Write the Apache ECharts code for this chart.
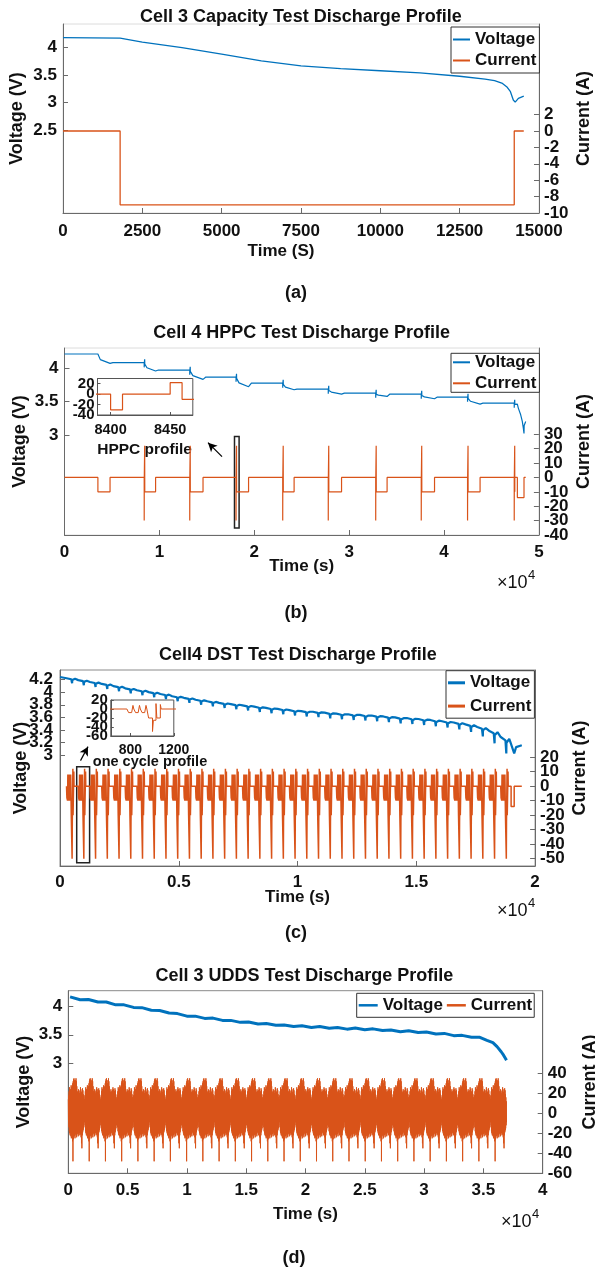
<!DOCTYPE html>
<html><head><meta charset="utf-8">
<script src="https://cdn.jsdelivr.net/npm/echarts@6/dist/echarts.min.js"></script>
<style>html,body{margin:0;padding:0;background:#fff}#c{width:595px;height:1269px}</style>
</head><body><div id="c"></div>
<script>
// ======================= DATA =======================
// (a) Cell 3 capacity test
const capTime = [0, 1800, 2500, 3750, 5000, 6250, 7500, 8750, 10000, 11250, 12500, 13300, 13600, 13850, 14000, 14100, 14190, 14250, 14350, 14520];
const capVolt = [4.18, 4.17, 4.10, 4.00, 3.88, 3.76, 3.67, 3.62, 3.58, 3.54, 3.48, 3.43, 3.40, 3.35, 3.28, 3.20, 3.05, 3.01, 3.08, 3.12];
const capCurTime = [0, 1800, 1800, 14220, 14220, 14520];
const capCur = [0, 0, -9, -9, 0, 0];
const capXTicks = [0, 2500, 5000, 7500, 10000, 12500, 15000];
const capVTicks = [2.5, 3, 3.5, 4];
const capITicks = [-10, -8, -6, -4, -2, 0, 2];

// (b) Cell 4 HPPC test
const hppcFirstStep = [3520, 4800];            // first -10 A discharge step (s)
const hppcFirstV = [4.21, 4.07, 4.08];         // rest, end of step, relaxed
const hppcStepI = -10;
const hppcPulseStart = [8400, 13200, 18080, 23000, 27800, 32800, 37600, 42480, 47400];
const hppcStepEnd   = [9600, 14600, 19400, 24200, 29200, 34000, 39000, 43800, 47460];
const hppcVRest = [4.08, 3.97, 3.865, 3.775, 3.685, 3.625, 3.61, 3.565, 3.475];
const hppcVLow  = [3.955, 3.83, 3.72, 3.675, 3.61, 3.575, 3.54, 3.46];
const hppcPulseRelT = [0, 0, 10, 10, 50, 50, 60, 60];
const hppcPulseCur  = [0, -30, -30, 0, 0, 22, 22, -10];
const hppcPulseDV   = [0, -0.07, -0.09, -0.01, 0, 0.05, 0.06, -0.02];
const hppcEndT   = [47730, 47730, 48430, 48430, 48610];
const hppcEndCur = [0, -14, -14, 0, 0];
const hppcEndVT = [47730, 47830, 48080, 48250, 48360, 48430, 48445, 48610];
const hppcEndV  = [3.46, 3.40, 3.30, 3.20, 3.10, 3.02, 3.14, 3.20];
const hppcXTicks = [0, 10000, 20000, 30000, 40000, 50000];
const hppcVTicks = [3, 3.5, 4];
const hppcITicks = [-40, -30, -20, -10, 0, 10, 20, 30];
const hppcInsetXTicks = [8400, 8450];
const hppcInsetITicks = [-40, -20, 0, 20];

// (c) Cell 4 DST test
const dstCycleStart = [274, 768, 1262, 1756, 2250, 2744, 3238, 3732, 4226, 4720, 5214, 5708, 6202, 6696, 7190, 7684, 8178, 8672, 9166, 9660, 10154, 10648, 11142, 11636, 12130, 12624, 13118, 13612, 14106, 14600, 15094, 15588, 16082, 16576, 17070, 17564, 18058, 18552];
const dstStepDur = [16, 28, 12, 8, 16, 24, 12, 8, 16, 24, 12, 8, 16, 36, 8, 24, 8, 32, 8, 44];
const dstStepCur = [0, -8, -10, 8, 0, -8, -10, 8, 0, -8, -10, 8, 0, -20, -50, -25, 12, -20, 10, 0];
const dstEndT   = [18990, 18990, 19120, 19120, 19440];
const dstEndCur = [0, -14, -14, 0, 0];
const dstVStart = [0, 4.24];
const dstVTop = [4.22, 4.19, 4.16, 4.13, 4.095, 4.06, 4.03, 4.00, 3.97, 3.935, 3.91, 3.88, 3.855, 3.83, 3.81, 3.79, 3.77, 3.75, 3.735, 3.715, 3.70, 3.69, 3.675, 3.66, 3.65, 3.64, 3.63, 3.615, 3.60, 3.59, 3.575, 3.56, 3.54, 3.52, 3.49, 3.45, 3.39, 3.29];
const dstVDip = [0.08, 0.08, 0.08, 0.08, 0.08, 0.08, 0.08, 0.08, 0.08, 0.08, 0.08, 0.08, 0.08, 0.08, 0.08, 0.08, 0.085, 0.085, 0.085, 0.085, 0.085, 0.085, 0.09, 0.09, 0.09, 0.09, 0.09, 0.09, 0.095, 0.095, 0.095, 0.10, 0.10, 0.11, 0.12, 0.15, 0.20, 0.26];
const dstVShapeT = [0, 200, 236, 242, 360];
const dstVShapeF = [0, 0.2, 1, 0.35, 0.12];
const dstEndVT = [18950, 18990, 19120, 19200, 19440];
const dstEndV  = [3.22, 3.20, 3.03, 3.13, 3.16];
const dstXTicks = [0, 5000, 10000, 15000, 20000];
const dstVTicks = [3, 3.2, 3.4, 3.6, 3.8, 4, 4.2];
const dstITicks = [-50, -40, -30, -20, -10, 0, 10, 20];
const dstInsetXTicks = [800, 1200];
const dstInsetITicks = [-60, -40, -20, 0, 20];

// (d) Cell 3 UDDS test
const uddsCycleDur = 1369;
const uddsCycleStart = [0, 1369, 2738, 4107, 5476, 6845, 8214, 9583, 10952, 12321, 13690, 15059, 16428, 17797, 19166, 20535, 21904, 23273, 24642, 26011, 27380, 28749, 30118, 31487, 32856, 34225, 35594];
const uddsPos = [14, 18, 22, 26, 24, 20, 24, 28, 26, 22, 27, 30, 32, 34, 35, 33, 28, 30, 33, 35, 32, 27, 22, 19, 21, 24, 22, 18, 20, 23, 26, 24, 21, 18, 22, 25, 23, 19, 16, 12];
const uddsNeg = [-8, -14, -18, -20, -22, -19, -23, -25, -21, -24, -28, -48, -26, -22, -20, -23, -25, -21, -19, -22, -24, -20, -18, -21, -23, -19, -17, -20, -22, -18, -21, -24, -30, -35, -22, -19, -17, -15, -12, -9];
const uddsVTime = [150, 1000, 1700, 2500, 3200, 4000, 4700, 5500, 6200, 7000, 7700, 8500, 9200, 10000, 10700, 11500, 12200, 13000, 13700, 14500, 15200, 16000, 16700, 17500, 18200, 19000, 19700, 20500, 21200, 22000, 22700, 23500, 24200, 25000, 25700, 26500, 27200, 28000, 28700, 29500, 30200, 31000, 31700, 32500, 33200, 34000, 34700, 35300, 35800, 36150, 36500, 36700, 36950];
const uddsVolt  = [4.17, 4.12, 4.125, 4.08, 4.08, 4.03, 4.03, 3.985, 3.98, 3.935, 3.93, 3.885, 3.875, 3.83, 3.83, 3.79, 3.795, 3.755, 3.755, 3.72, 3.725, 3.69, 3.70, 3.67, 3.675, 3.645, 3.66, 3.63, 3.645, 3.615, 3.63, 3.60, 3.62, 3.59, 3.605, 3.575, 3.585, 3.555, 3.57, 3.54, 3.55, 3.515, 3.525, 3.485, 3.49, 3.455, 3.455, 3.40, 3.36, 3.29, 3.20, 3.14, 3.05];
const uddsXTicks = [0, 5000, 10000, 15000, 20000, 25000, 30000, 35000, 40000];
const uddsVTicks = [3, 3.5, 4];
const uddsITicks = [-60, -40, -20, 0, 20, 40];

// ======================= BUILD SERIES DATA =======================
const pairs = (xs, ys) => xs.map((x, i) => [x, ys[i]]);

function buildHppcI() {
  const d = [[0, 0], [hppcFirstStep[0], 0], [hppcFirstStep[0], hppcStepI], [hppcFirstStep[1], hppcStepI], [hppcFirstStep[1], 0]];
  hppcPulseStart.forEach((p, i) => {
    d.push([p, 0]);
    hppcPulseRelT.forEach((rt, j) => d.push([p + rt, hppcPulseCur[j]]));
    d.push([hppcStepEnd[i], hppcStepI], [hppcStepEnd[i], 0]);
  });
  hppcEndT.forEach((t, k) => d.push([t, hppcEndCur[k]]));
  return d;
}
function buildHppcV() {
  const s0 = hppcFirstStep[0], e0 = hppcFirstStep[1];
  const d = [[0, hppcFirstV[0]], [s0, hppcFirstV[0]],
    [s0 + 0.2 * (e0 - s0), hppcFirstV[0] - 0.6 * (hppcFirstV[0] - hppcFirstV[1])],
    [e0, hppcFirstV[1]], [e0 + 300, hppcFirstV[2]]];
  hppcPulseStart.forEach((p, i) => {
    const vr = hppcVRest[i];
    d.push([p, vr]);
    hppcPulseRelT.forEach((rt, j) => d.push([p + rt, vr + hppcPulseDV[j]]));
    if (i < hppcVLow.length) {
      const s = p + 60, e = hppcStepEnd[i], lo = hppcVLow[i];
      d.push([s + 0.2 * (e - s), vr - 0.6 * (vr - lo)], [e, lo], [e + 300, hppcVRest[i + 1]]);
    }
  });
  hppcEndVT.forEach((t, k) => d.push([t, hppcEndV[k]]));
  return d;
}
function buildDstI() {
  const d = [];
  dstCycleStart.forEach(s => {
    let t = s;
    d.push([t, 0]);
    dstStepDur.forEach((dur, k) => { d.push([t, dstStepCur[k]]); t += dur; d.push([t, dstStepCur[k]]); });
    d.push([t, 0]);
  });
  dstEndT.forEach((t, k) => d.push([t, dstEndCur[k]]));
  return d;
}
function buildDstV() {
  const d = [dstVStart.slice()];
  dstCycleStart.forEach((s, i) => {
    dstVShapeT.forEach((rt, k) => d.push([s + rt, dstVTop[i] - dstVDip[i] * dstVShapeF[k]]));
  });
  dstEndVT.forEach((t, k) => d.push([t, dstEndV[k]]));
  return d;
}
function buildUddsI() {
  const d = [];
  const n = uddsPos.length, dt = uddsCycleDur / n;
  uddsCycleStart.forEach(s => {
    for (let j = 0; j < n; j++) {
      d.push([s + j * dt, uddsPos[j]]);
      d.push([s + (j + 0.5) * dt, uddsNeg[j]]);
    }
  });
  return d;
}

const hppcI = buildHppcI(), hppcV = buildHppcV();
const dstI = buildDstI(), dstV = buildDstV();
const uddsI = buildUddsI();

// ======================= STYLE =======================
const FONT = '"Liberation Sans", Arial, Helvetica, sans-serif';
const TXT = '#111';
const AX = '#6a6a6a';
const VCOL = '#0072BD', ICOL = '#D95319';
const fmtNum = v => String(Math.round(v * 100) / 100);
const fmtE4 = v => String(Math.round(v / 1000) / 10);

function lbl(size, extra) { return Object.assign({ color: TXT, fontSize: size, fontWeight: 'bold', fontFamily: FONT }, extra || {}); }

function xAx(gi, min, max, ticks, fmt, o) {
  o = o || {};
  return {
    type: 'value', gridIndex: gi, min: min, max: max, position: 'bottom',
    axisLine: { show: true, onZero: false, lineStyle: { color: o.axc || AX, width: 1 } },
    axisTick: { show: true, inside: true, length: o.tl || 5, customValues: ticks, lineStyle: { color: o.axc || AX } },
    axisLabel: lbl(o.fs || 17, { customValues: ticks, formatter: fmt, margin: o.margin == null ? 8 : o.margin, showMinLabel: true, showMaxLabel: true, hideOverlap: false }),
    splitLine: { show: false },
    name: o.name || '', nameLocation: 'middle', nameGap: o.gap || 25, nameMoveOverlap: false,
    nameTextStyle: lbl(17, { padding: o.pad || 0 })
  };
}
// one value axis; labels given separately so that neighbouring labels can live on twin axes
function yAx(gi, pos, min, max, ticks, labels, o, twin) {
  o = o || {};
  return {
    type: 'value', gridIndex: gi, min: min, max: max, position: pos, offset: 0,
    axisLine: { show: !twin, onZero: false, lineStyle: { color: o.axc || AX, width: 1 } },
    axisTick: { show: !twin, inside: true, length: o.tl || 5, customValues: ticks, lineStyle: { color: o.axc || AX } },
    axisLabel: lbl(o.fs || 17, { customValues: labels, formatter: fmtNum, margin: o.margin == null ? 6 : o.margin, showMinLabel: true, showMaxLabel: true, hideOverlap: false }),
    splitLine: { show: false },
    name: twin ? '' : (o.name || ''), nameLocation: 'middle', nameGap: o.gap || 30, nameRotate: 90, nameMoveOverlap: false,
    nameTextStyle: lbl(18)
  };
}
const yAxes = [];
function addYAxis(gi, pos, min, max, ticks, o) {
  const even = ticks.filter((_, i) => i % 2 === 0);
  const odd = ticks.filter((_, i) => i % 2 === 1);
  const idx = yAxes.length;
  yAxes.push(yAx(gi, pos, min, max, ticks, even, o, false));
  yAxes.push(yAx(gi, pos, min, max, ticks, odd, o, true));
  return idx;
}
function gridBox(left, top, width, height, bc) {
  return { left: left, top: top, width: width, height: height, containLabel: false, outerBoundsMode: 'none', show: true, borderColor: bc, borderWidth: 1, backgroundColor: 'transparent' };
}
function lineS(name, xi, yi, data, color, width, extra) {
  return Object.assign({
    name: name, type: 'line', xAxisIndex: xi, yAxisIndex: yi, data: data,
    showSymbol: false, symbol: 'none', smooth: false, animation: false,
    lineStyle: { color: color, width: width }, itemStyle: { color: color },
    emphasis: { disabled: true }, silent: true
  }, extra || {});
}
function legendCfg(left, top, orient, pad, gap, ih, iw) {
  return {
    left: left, top: top, orient: orient, data: ['Voltage', 'Current'],
    icon: 'rect', itemWidth: iw || 17, itemHeight: ih || 2, itemGap: gap, itemTextGap: 2,
    padding: pad, backgroundColor: '#fff', borderColor: '#333', borderWidth: 1,
    textStyle: lbl(17, { lineHeight: 17 }), selectedMode: false
  };
}
function txt(x, y, text, font, align, color) {
  return { type: 'text', x: x, y: y, silent: true, style: { text: text, font: font, fill: color || TXT, textAlign: align || 'center', textVerticalAlign: 'middle' } };
}
const BF18 = 'bold 18px ' + FONT, BF16 = 'bold 15.5px ' + FONT, BF14 = 'bold 14.5px ' + FONT;
const RF18 = '18px ' + FONT, RF13 = '13px ' + FONT;

// annotation anchors (data coordinates)
const hppcBox = [[17917, 28.5], [18402, -35.1]];
const hppcArrow = [[16600, 14.5], [15124, 24.2]];
const dstBox = [[703, 13.3], [1246, -52.8]];
const dstArrow = [[863, 17.6], [1179, 27.2]];

const boxArea = (c) => ({ silent: true, itemStyle: { color: 'rgba(0,0,0,0)', borderColor: '#222', borderWidth: 1.5 }, label: { show: false }, data: [[{ coord: c[0] }, { coord: c[1] }]] });
const arrowLine = (c) => ({ silent: true, animation: false, symbol: ['none', 'arrow'], symbolSize: [7, 9], lineStyle: { color: '#000', width: 1.2, type: 'solid' }, label: { show: false }, data: [[{ coord: c[0] }, { coord: c[1] }]] });

// y axes
const yA_V = addYAxis(0, 'left', 1, 4.428, capVTicks, { name: 'Voltage (V)', gap: 37 });
const yB_V = addYAxis(1, 'left', 1.5, 4.3, hppcVTicks, { name: 'Voltage (V)', gap: 35 });
const yC_V = addYAxis(2, 'left', 1.25, 4.35, dstVTicks, { name: 'Voltage (V)', gap: 30, margin: 7 });
const yD_V = addYAxis(3, 'left', 1.05, 4.28, uddsVTicks, { name: 'Voltage (V)', gap: 35 });
const yA_I = addYAxis(0, 'right', -10, 13.05, capITicks, { name: 'Current (A)', gap: 36, margin: 5 });
const yB_I = addYAxis(1, 'right', -40, 90, hppcITicks, { name: 'Current (A)', gap: 36, margin: 5 });
const yC_I = addYAxis(2, 'right', -55, 80, dstITicks, { name: 'Current (A)', gap: 36, margin: 5 });
const yD_I = addYAxis(3, 'right', -60, 122.6, uddsITicks, { name: 'Current (A)', gap: 38, margin: 5 });
const yB_in = addYAxis(4, 'left', -40, 30, hppcInsetITicks, { fs: 15, margin: 3, tl: 3, axc: '#555' });
const yC_in = addYAxis(5, 'left', -60, 20, dstInsetITicks, { fs: 15, margin: 3, tl: 3, axc: '#555' });

const option = {
  animation: false,
  backgroundColor: '#fff',
  grid: [
    gridBox(63, 24, 476, 189, '#dcdcdc'),
    gridBox(64.5, 348, 474.4, 187, '#dcdcdc'),
    gridBox(60, 670, 475.1, 196, '#8a8a8a'),
    gridBox(68.3, 990.7, 474.4, 182.6, '#8a8a8a'),
    gridBox(97.5, 378.5, 95.3, 36.5, '#555'),
    gridBox(110.8, 700, 63, 36, '#555')
  ],
  xAxis: [
    xAx(0, 0, 15000, capXTicks, v => String(v), { name: 'Time (S)', gap: 30, margin: 10, pad: [0, 40, 0, 0] }),
    xAx(1, 0, 50000, hppcXTicks, fmtE4, { name: 'Time (s)', gap: 23, margin: 9 }),
    xAx(2, 0, 20000, dstXTicks, fmtE4, { name: 'Time (s)', gap: 23, margin: 8 }),
    xAx(3, 0, 40000, uddsXTicks, fmtE4, { name: 'Time (s)', gap: 33, margin: 9 }),
    xAx(4, 8389, 8469, hppcInsetXTicks, v => String(v), { fs: 14.5, margin: 7, tl: 3, axc: '#555' }),
    xAx(5, 620, 1200, dstInsetXTicks, v => String(v), { fs: 14, margin: 7, tl: 3, axc: '#555' })
  ],
  yAxis: yAxes,
  legend: [
    legendCfg(451, 27, 'vertical', [4, 3, 4, 2], 4),
    legendCfg(451, 353.3, 'vertical', [0.5, 3, 0.5, 2], 4),
    legendCfg(446, 670.7, 'vertical', [3.6, 3, 3.6, 2], 6.3, 3),
    legendCfg(356.7, 993.3, 'horizontal', [3.5, 2, 3.5, 2], 4, 2.5, 19)
  ],
  series: [
    lineS('Voltage', 0, yA_V, pairs(capTime, capVolt), VCOL, 1.3),
    lineS('Current', 0, yA_I, pairs(capCurTime, capCur), ICOL, 1.3),
    lineS('Voltage', 1, yB_V, hppcV, VCOL, 1.2),
    lineS('Current', 1, yB_I, hppcI, ICOL, 1.2, { markArea: boxArea(hppcBox), markLine: arrowLine(hppcArrow) }),
    lineS('Voltage', 2, yC_V, dstV, VCOL, 2.2),
    lineS('Current', 2, yC_I, dstI, ICOL, 1.5, { markArea: boxArea(dstBox), markLine: arrowLine(dstArrow) }),
    lineS('Current', 3, yD_I, uddsI, ICOL, 1),
    lineS('Voltage', 3, yD_V, pairs(uddsVTime, uddsVolt), VCOL, 3),
    lineS('HPPC inset', 4, yB_in, hppcI, ICOL, 1.2),
    lineS('DST inset', 5, yC_in, dstI, ICOL, 1)
  ],
  graphic: [
    txt(300.8, 17, 'Cell 3 Capacity Test Discharge Profile', BF18),
    txt(301.7, 333, 'Cell 4 HPPC Test Discharge Profile', BF18),
    txt(297.9, 655, 'Cell4 DST Test Discharge Profile', BF18),
    txt(304.4, 976, 'Cell 3 UDDS Test Discharge Profile', BF18),
    txt(296, 293, '(a)', BF18),
    txt(296, 613, '(b)', BF18),
    txt(296, 933, '(c)', BF18),
    txt(294, 1258, '(d)', BF18),
    txt(144.6, 450, 'HPPC profile', BF16),
    txt(150, 761.7, 'one cycle profile', BF14),
    txt(497, 583, '×10', RF18, 'left'),
    txt(528, 575, '4', RF13, 'left'),
    txt(497, 911, '×10', RF18, 'left'),
    txt(528, 903, '4', RF13, 'left'),
    txt(501, 1222, '×10', RF18, 'left'),
    txt(532, 1214, '4', RF13, 'left')
  ]
};

const chart = echarts.init(document.getElementById('c'), null, { renderer: 'canvas', width: 595, height: 1269 });
chart.setOption(option);
</script></body></html>
